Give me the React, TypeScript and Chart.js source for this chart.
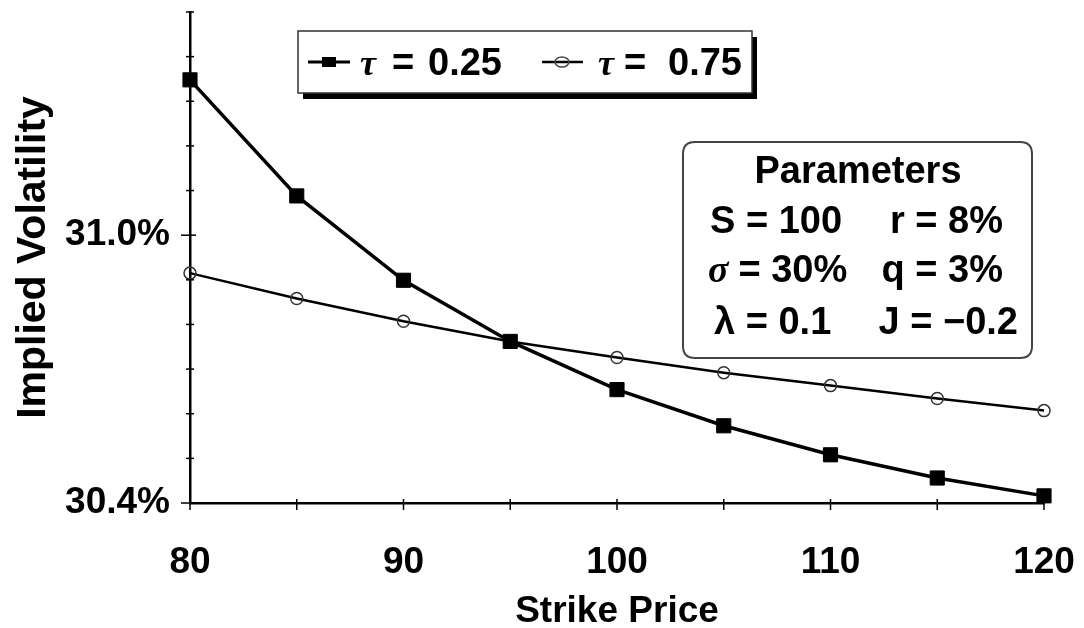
import React, { useEffect, useRef } from 'react';
import { Chart, registerables } from 'chart.js';

Chart.register(...registerables);

// ---- data ----
const strikes = [80, 85, 90, 95, 100, 105, 110, 115, 120];
const volTau025 = [31.348, 31.088, 30.899, 30.762, 30.654, 30.573, 30.508, 30.456, 30.416];
const volTau075 = [30.915, 30.858, 30.807, 30.762, 30.726, 30.692, 30.663, 30.634, 30.607];
const yLabelValues = [30.4, 31.0];
const legendSymbol = 'τ';
const legendValues = ['0.25', '0.75'];
const paramTitle = 'Parameters';
const paramRows = [
  { left: 'S = 100', right: 'r = 8%' },
  { leftSym: 'σ', left: '= 30%', right: 'q = 3%' },
  { left: 'λ = 0.1', right: 'J = −0.2' },
];

const SANS = '"Liberation Sans", Arial, Helvetica, sans-serif';
const SERIF = '"Liberation Serif", "DejaVu Serif", serif';

const overlayPlugin = {
  id: 'overlay',
  afterDatasetsDraw(chart: any) {
    const ctx = chart.ctx as CanvasRenderingContext2D;
    const xs = chart.scales.x;
    const ys = chart.scales.y;
    const area = chart.chartArea;
    ctx.save();
    ctx.strokeStyle = '#000';
    ctx.lineWidth = 1.5;
    xs.ticks.forEach((t: any) => {
      const px = xs.getPixelForValue(t.value);
      ctx.beginPath();
      ctx.moveTo(px, area.bottom - 4);
      ctx.lineTo(px, area.bottom + 7);
      ctx.stroke();
    });
    ys.ticks.forEach((t: any) => {
      const py = ys.getPixelForValue(t.value);
      const major = yLabelValues.some((v) => Math.abs(v - t.value) < 1e-6);
      ctx.beginPath();
      ctx.moveTo(area.left - (major ? 9 : 4), py);
      ctx.lineTo(area.left + (major ? 6 : 4), py);
      ctx.stroke();
    });
    ctx.restore();
  },
  afterDraw(chart: any) {
    const ctx = chart.ctx as CanvasRenderingContext2D;
    ctx.save();
    // ---- legend box ----
    const lx = 298, ly = 31, lw = 454, lh = 62;
    ctx.fillStyle = '#000';
    ctx.fillRect(lx + 5, ly + 6, lw, lh);
    ctx.fillStyle = '#fff';
    ctx.fillRect(lx, ly, lw, lh);
    ctx.strokeStyle = '#333';
    ctx.lineWidth = 1.5;
    ctx.strokeRect(lx, ly, lw, lh);

    const midY = 62;
    ctx.strokeStyle = '#000';
    ctx.lineWidth = 3;
    ctx.beginPath();
    ctx.moveTo(308, midY);
    ctx.lineTo(350, midY);
    ctx.stroke();
    ctx.fillStyle = '#000';
    ctx.fillRect(322, midY - 5, 14, 10);
    ctx.lineWidth = 2.5;
    ctx.beginPath();
    ctx.moveTo(542, midY);
    ctx.lineTo(583, midY);
    ctx.stroke();
    ctx.strokeStyle = '#444';
    ctx.lineWidth = 1.5;
    ctx.beginPath();
    ctx.ellipse(562, midY, 7, 5, 0, 0, Math.PI * 2);
    ctx.stroke();

    ctx.fillStyle = '#000';
    ctx.textBaseline = 'alphabetic';
    ctx.textAlign = 'left';
    const base = 75;
    const items = [
      { sym: 360, eq: 392, val: 428 },
      { sym: 598, eq: 624, val: 668 },
    ];
    items.forEach((p, i) => {
      ctx.font = `italic bold 36px ${SERIF}`;
      ctx.fillText(legendSymbol, p.sym, base);
      ctx.font = `bold 38px ${SANS}`;
      ctx.fillText('=', p.eq, base);
      ctx.fillText(legendValues[i], p.val, base);
    });

    // ---- parameters box ----
    const bx = 683, by = 142, bw = 349, bh = 216, r = 12;
    ctx.beginPath();
    ctx.moveTo(bx + r, by);
    ctx.lineTo(bx + bw - r, by);
    ctx.quadraticCurveTo(bx + bw, by, bx + bw, by + r);
    ctx.lineTo(bx + bw, by + bh - r);
    ctx.quadraticCurveTo(bx + bw, by + bh, bx + bw - r, by + bh);
    ctx.lineTo(bx + r, by + bh);
    ctx.quadraticCurveTo(bx, by + bh, bx, by + bh - r);
    ctx.lineTo(bx, by + r);
    ctx.quadraticCurveTo(bx, by, bx + r, by);
    ctx.closePath();
    ctx.fillStyle = '#fff';
    ctx.fill();
    ctx.strokeStyle = '#444';
    ctx.lineWidth = 2;
    ctx.stroke();

    ctx.fillStyle = '#000';
    ctx.font = `bold 38px ${SANS}`;
    ctx.textAlign = 'center';
    ctx.fillText(paramTitle, 858, 183);

    const baselines = [233, 282, 334];
    const lefts = [710, 708, 714];
    const rights = [1003, 1003, 1018];
    paramRows.forEach((row: any, i) => {
      const y = baselines[i];
      let x = lefts[i];
      ctx.textAlign = 'left';
      if (row.leftSym) {
        ctx.font = `italic bold 38px ${SERIF}`;
        ctx.fillText(row.leftSym, x, y);
        x += ctx.measureText(row.leftSym).width + 10;
      }
      ctx.font = `bold 38px ${SANS}`;
      ctx.fillText(row.left, x, y);
      ctx.textAlign = 'right';
      ctx.fillText(row.right, rights[i], y);
    });
    ctx.restore();
  },
};

export default function App() {
  const ref = useRef<HTMLCanvasElement | null>(null);
  useEffect(() => {
    document.body.style.margin = '0';
    const canvas = ref.current;
    if (!canvas) return;
    const chart = new Chart(canvas, {
      type: 'line',
      data: {
        datasets: [
          {
            label: `${legendSymbol} = ${legendValues[0]}`,
            data: strikes.map((x, i) => ({ x, y: volTau025[i] })),
            borderColor: '#000',
            borderWidth: 3.5,
            pointStyle: 'rect',
            pointRadius: 10,
            pointBackgroundColor: '#000',
            pointBorderColor: '#000',
            pointBorderWidth: 1,
            clip: false as any,
            tension: 0,
          },
          {
            label: `${legendSymbol} = ${legendValues[1]}`,
            data: strikes.map((x, i) => ({ x, y: volTau075[i] })),
            borderColor: '#000',
            borderWidth: 2.5,
            pointStyle: 'circle',
            pointRadius: 6,
            pointBackgroundColor: 'rgba(0,0,0,0)',
            pointBorderColor: '#333',
            pointBorderWidth: 1.5,
            clip: false as any,
            tension: 0,
          },
        ],
      },
      options: {
        responsive: false,
        animation: false,
        layout: { padding: { top: 12, right: 40, left: 0, bottom: 0 } },
        plugins: { legend: { display: false }, tooltip: { enabled: false } },
        scales: {
          x: {
            type: 'linear',
            min: 80,
            max: 120,
            grid: { display: false, drawTicks: false },
            border: { display: true, color: '#000', width: 2.5 },
            ticks: {
              stepSize: 5,
              autoSkip: false,
              maxRotation: 0,
              color: '#000',
              padding: 38,
              font: { family: SANS, size: 37, weight: 'bold' },
              callback: (v: any) => (Number(v) % 10 === 0 ? String(v) : ''),
            },
            title: {
              display: true,
              text: 'Strike Price',
              color: '#000',
              font: { family: SANS, size: 37, weight: 'bold', lineHeight: 0.85 },
              padding: { top: 0, bottom: 0 },
            },
            afterFit: (s: any) => {
              s.height = 125;
              s.paddingLeft = 0;
              s.paddingRight = 0;
            },
          },
          y: {
            type: 'linear',
            min: 30.4,
            max: 31.5,
            grid: { display: false, drawTicks: false },
            border: { display: true, color: '#000', width: 2.5 },
            ticks: {
              stepSize: 0.1,
              autoSkip: false,
              color: '#000',
              padding: 20,
              font: { family: SANS, size: 37, weight: 'bold' },
              callback: (v: any) =>
                yLabelValues.some((l) => Math.abs(l - Number(v)) < 1e-6)
                  ? Number(v).toFixed(1) + '%'
                  : '',
            },
            title: {
              display: true,
              text: 'Implied Volatility',
              color: '#000',
              font: { family: SANS, size: 41, weight: 'bold' },
              padding: { top: 9, bottom: 0 },
            },
            afterFit: (s: any) => {
              s.width = 190;
              s.paddingTop = 0;
              s.paddingBottom = 0;
            },
          },
        },
      } as any,
      plugins: [overlayPlugin],
    });
    return () => chart.destroy();
  }, []);
  return (
    <div style={{ position: 'fixed', left: 0, top: 0, width: 1084, height: 628, background: '#fff' }}>
      <canvas ref={ref} width={1084} height={628} style={{ display: 'block' }} />
    </div>
  );
}
